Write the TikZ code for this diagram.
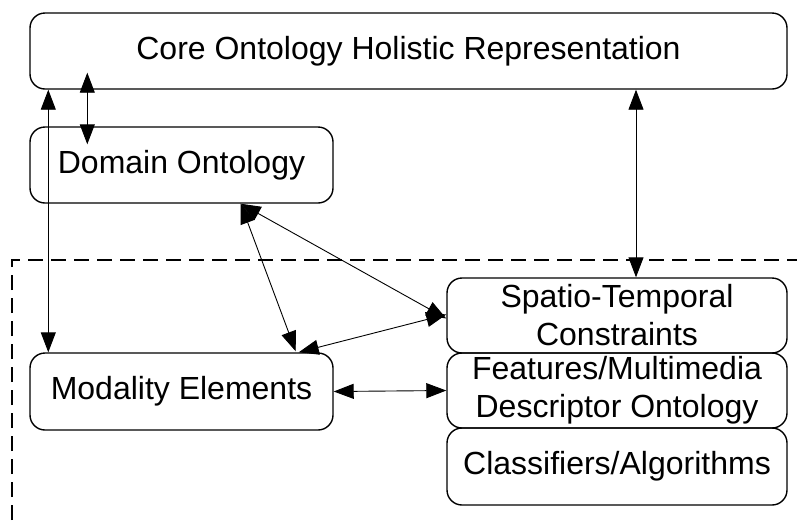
\documentclass[tikz,border=0pt]{standalone}
\usepackage{fontspec}
\setmainfont{Liberation Sans}
\usetikzlibrary{arrows.meta,calc}
\begin{document}
\begin{tikzpicture}[x=1pt,y=-1pt,
  box/.style={draw,line width=1.4pt,rounded corners=15pt,inner sep=0pt,align=center,
    font=\fontsize{32}{38}\selectfont},
  dbl/.style={line width=0.9pt,>={Triangle[length=20pt,width=15pt]},<->},
  region/.style={line width=1.3pt,dash pattern=on 15pt off 8pt}]
\useasboundingbox (0,0) rectangle (797,520);
\node[box,minimum width=757pt,minimum height=76pt] (core) at (408.5,51) {Core Ontology Holistic Representation};
\node[box,minimum width=303pt,minimum height=76pt] (dom) at (181.5,165) {Domain Ontology};
\node[box,minimum width=303pt,minimum height=77pt] (mod) at (181.5,391.5) {Modality Elements};
\node[box,minimum width=340pt,minimum height=75pt] (spat) at (617,315.5) {Spatio-Temporal\\Constraints};
\node[box,minimum width=340pt,minimum height=75pt] (feat) at (617,390.5) {Features/Multimedia\\Descriptor Ontology};
\node[box,minimum width=340pt,minimum height=77pt] (cls) at (617,466.5) {Classifiers/Algorithms};
\coordinate (dcorner) at (12,260);
\coordinate (dbottom) at (12,520);
\coordinate (dright) at (797,260);
\draw[region] (dbottom) -- (dcorner) -- (dright);
\draw[dbl] ([xshift=58pt,yshift=17pt]core.south west) -- ([xshift=58pt,yshift=-18pt]dom.north west);
\draw[dbl] ([xshift=19pt]core.south west) -- ([xshift=19pt]mod.north west);
\draw[dbl] (core.south west -| 636,0) -- (spat.north west -| 636,0);
\draw[dbl] ([xshift=-93pt]dom.south east) -- ([yshift=-3pt]spat.west);
\draw[dbl] ([xshift=-93pt]dom.south east) -- ([xshift=-38pt,yshift=1pt]mod.north east);
\draw[dbl] ([yshift=1pt]spat.west) -- ([xshift=-35pt]mod.north east);
\draw[dbl] (mod.east) -- (feat.west);
\end{tikzpicture}
\end{document}
